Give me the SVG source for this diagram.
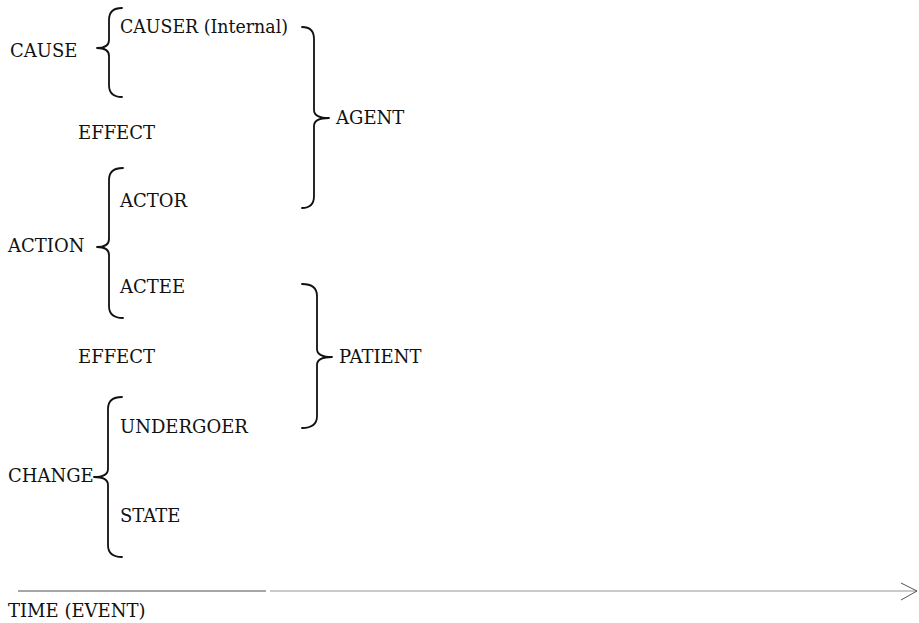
<svg xmlns="http://www.w3.org/2000/svg" width="919" height="623" viewBox="0 0 919 623">
  <style>
    .lbl { font-family: "DejaVu Serif", "Liberation Serif", serif; font-size: 18px; fill: #111; }
    .brace { fill: none; stroke: #111; stroke-width: 1.8; stroke-linecap: round; stroke-linejoin: round; }
    .time-a { fill: none; stroke: #888888; stroke-width: 1.3; }
    .time-b { fill: none; stroke: #b8b8b8; stroke-width: 1.6; }
    .head { fill: none; stroke: #555; stroke-width: 1; }
  </style>
  <rect width="919" height="623" fill="#ffffff"/>

  <!-- role labels on the left -->
  <g id="cause">
    <text class="lbl" x="10" y="57">CAUSE</text>
    <path class="brace" d="M122,8 Q109,8 109,20 L109,40 Q109,48 97,48 Q109,48 109,56 L109,85 Q109,97 122,97"/>
  </g>
  <g id="causer">
    <text class="lbl" x="120" y="33" textLength="168" lengthAdjust="spacingAndGlyphs">CAUSER (Internal)</text>
  </g>
  <g id="effect-1">
    <text class="lbl" x="78" y="139">EFFECT</text>
  </g>
  <g id="action">
    <text class="lbl" x="8" y="252">ACTION</text>
    <path class="brace" d="M123,168 Q109,168 109,180 L109,239 Q109,247 97,247 Q109,247 109,255 L109,306 Q109,318 123,318"/>
  </g>
  <g id="actor">
    <text class="lbl" x="120" y="207">ACTOR</text>
  </g>
  <g id="actee">
    <text class="lbl" x="120" y="293">ACTEE</text>
  </g>
  <g id="effect-2">
    <text class="lbl" x="78" y="363">EFFECT</text>
  </g>
  <g id="change">
    <text class="lbl" x="8" y="482">CHANGE</text>
    <path class="brace" d="M122,397 Q108,397 108,409 L108,469 Q108,477 94,477 Q108,477 108,485 L108,545 Q108,557 122,557"/>
  </g>
  <g id="undergoer">
    <text class="lbl" x="120" y="433">UNDERGOER</text>
  </g>
  <g id="state">
    <text class="lbl" x="120" y="522">STATE</text>
  </g>

  <!-- grouping roles on the right -->
  <g id="agent">
    <path class="brace" d="M302,27 Q314,27 314,39 L314,110 Q314,118 329,118 Q314,118 314,126 L314,196 Q314,208 302,208"/>
    <text class="lbl" x="336" y="124">AGENT</text>
  </g>
  <g id="patient">
    <path class="brace" d="M302,284 Q317,284 317,296 L317,349 Q317,357 332,357 Q317,357 317,365 L317,416 Q317,428 302,428"/>
    <text class="lbl" x="339" y="363">PATIENT</text>
  </g>

  <!-- time axis -->
  <g id="connectors">
    <line class="time-a" x1="18" y1="591" x2="266" y2="591"/>
    <line class="time-b" x1="270" y1="591" x2="917" y2="591"/>
    <polyline class="head" points="901,583 917,591 901,600"/>
  </g>
  <g id="time-label">
    <text class="lbl" x="8" y="617">TIME (EVENT)</text>
  </g>
</svg>
